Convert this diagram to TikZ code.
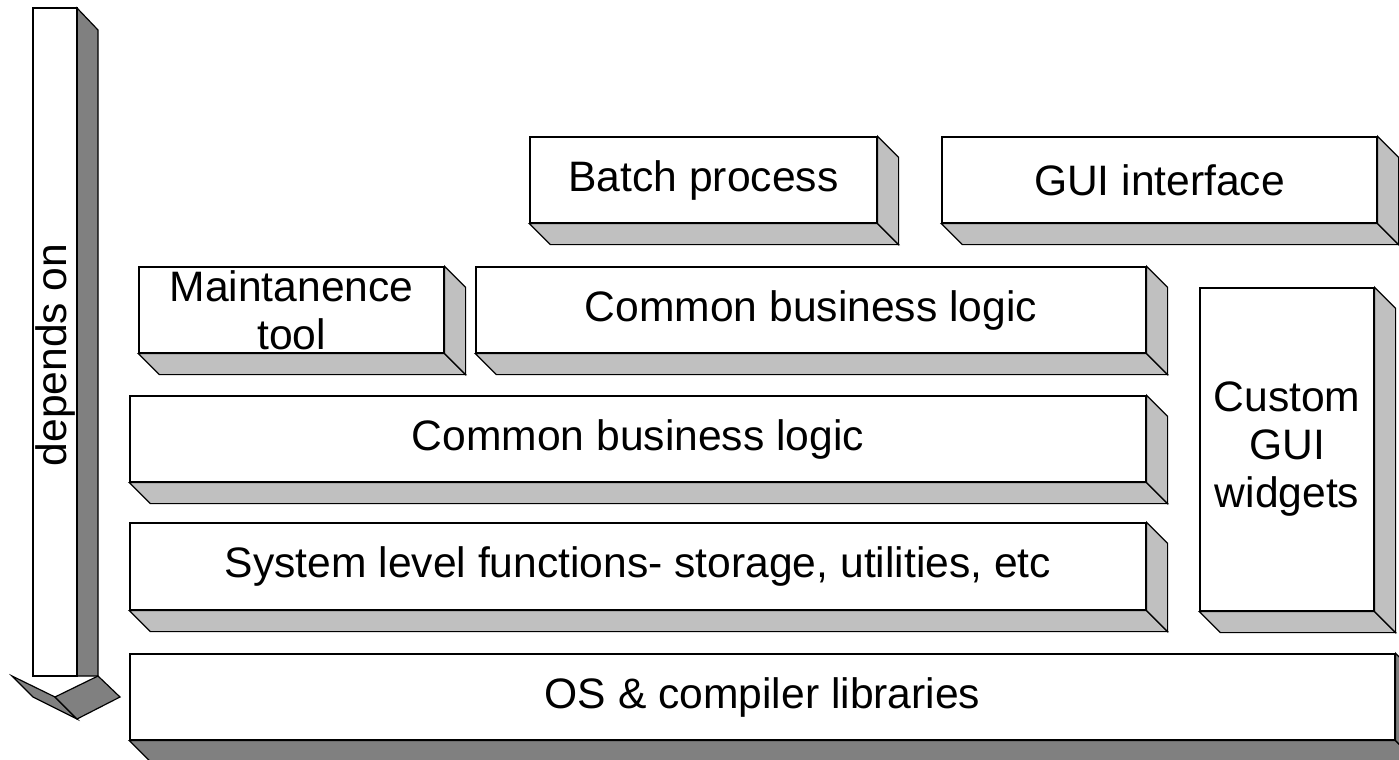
\documentclass[tikz,border=0pt]{standalone}
\usepackage{fontspec}
\setmainfont{Liberation Sans}
\definecolor{lightside}{HTML}{C0C0C0}
\definecolor{darkside}{HTML}{808080}
\tikzset{
  face/.style={draw=black, line width=0.6pt, line join=miter},
  frontbox/.style={face, fill=white, rectangle, inner sep=0pt, align=center,
    font=\fontsize{21.3}{24}\selectfont},
}
% \slab{name}{x1}{y1}{x2}{y2}{text}{side colour}
\newcommand\slab[7]{%
  \node[frontbox, minimum width={(#4-#2)*0.5pt}, minimum height={(#5-#3)*0.5pt}]
    (#1) at ({(#2+#4)/2},{(#3+#5)/2}) {#6};
  \draw[face, fill=#7] (#1.south west) -- (#1.south east) -- ++(21,21) -- ([shift={(21,21)}]#1.south west) -- cycle;
  \draw[face, fill=#7] (#1.north east) -- ++(21,21) -- ([shift={(21,21)}]#1.south east) -- (#1.south east) -- cycle;
}
\begin{document}
\begin{tikzpicture}[x=0.5pt, y=-0.5pt]
\useasboundingbox (0,0) rectangle (1399,760);
% depends-on arrow
\coordinate (a1) at (33,8);
\coordinate (a2) at (77,8);
\coordinate (a3) at (77,676);
\coordinate (a4) at (33,676);
\draw[face, fill=darkside] (a2) -- (98,30) -- (98,676) -- (a3) -- cycle;
\draw[face, fill=white] (a1) -- (a2) -- (a3) -- (a4) -- cycle;
\draw[face, fill=darkside] (12,676) -- (33,697) -- (77,719) -- (55,697) -- cycle;
\draw[face, fill=darkside] (55,697) -- (98,676) -- (120,697) -- (77,719) -- cycle;
\node[rotate=90, font=\fontsize{21.3}{24}\selectfont] (dep) at (55,355) {depends on};
% layers
\slab{batch}{530}{137}{877}{223}{Batch process}{lightside}
\slab{gui}{942}{137}{1377}{223}{GUI interface}{lightside}
\slab{maint}{139}{267}{444}{353}{Maintanence\\tool}{lightside}
\slab{cbl1}{476}{267}{1146}{353}{Common business logic}{lightside}
\slab{widgets}{1200}{288}{1374}{611}{\fontsize{21.3}{25.7}\selectfont Custom\\GUI\\widgets}{lightside}
\slab{cbl2}{130}{396}{1146}{482}{Common business logic}{lightside}
\slab{sys}{130}{523}{1146}{610}{System level functions- storage, utilities, etc}{lightside}
\slab{os}{130}{654}{1395}{740}{OS \& compiler libraries}{darkside}
\end{tikzpicture}
\end{document}
